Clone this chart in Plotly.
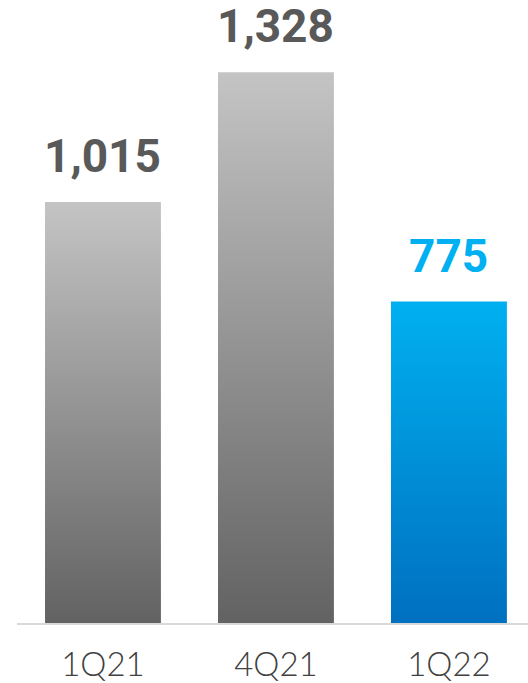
import plotly.graph_objects as go

# Quarterly values
categories = ["1Q21", "4Q21", "1Q22"]
values = [1015, 1328, 775]
value_labels = ["1,015", "1,328", "775"]

# Per-bar gradient (bottom colour, top colour) and label colour
gray_grad = ("#626262", "#c4c4c4")
blue_grad = ("#0070c0", "#00b0f0")
bar_grads = [gray_grad, gray_grad, blue_grad]
label_colors = ["#595959", "#595959", "#00b0f0"]

BAR_HALF = 0.335

fig = go.Figure()

for i, (v, grad) in enumerate(zip(values, bar_grads)):
    xs = [i - BAR_HALF, i + BAR_HALF, i + BAR_HALF, i - BAR_HALF, i - BAR_HALF]
    ys = [0, 0, v, v, 0]
    fig.add_trace(go.Scatter(
        x=xs, y=ys,
        mode="lines",
        line=dict(width=0),
        fill="toself",
        fillgradient=dict(type="vertical",
                          colorscale=[[0, grad[0]], [1, grad[1]]]),
        hoverinfo="skip",
        showlegend=False,
    ))

for i, (v, txt, col) in enumerate(zip(values, value_labels, label_colors)):
    fig.add_annotation(
        x=i, y=v, text=txt, showarrow=False,
        xanchor="center", yanchor="bottom", yshift=17,
        font=dict(family="Roboto", size=46, color=col, weight="bold"),
    )

fig.update_layout(
    width=528, height=683,
    margin=dict(l=17, r=0, t=0, b=57),
    paper_bgcolor="white", plot_bgcolor="white",
    xaxis=dict(
        range=[-0.497, 2.457],
        tickvals=list(range(len(categories))),
        ticktext=categories,
        showgrid=False, zeroline=False,
        showline=True, linecolor="#d9d9d9", linewidth=2,
        ticks="", ticklabelstandoff=11,
        tickfont=dict(family="Lato", size=33, color="#404040", weight=300),
        fixedrange=True,
    ),
    yaxis=dict(
        range=[0, 1502],
        visible=False, showgrid=False, zeroline=False,
        fixedrange=True,
    ),
)

fig.write_html("out.html")
